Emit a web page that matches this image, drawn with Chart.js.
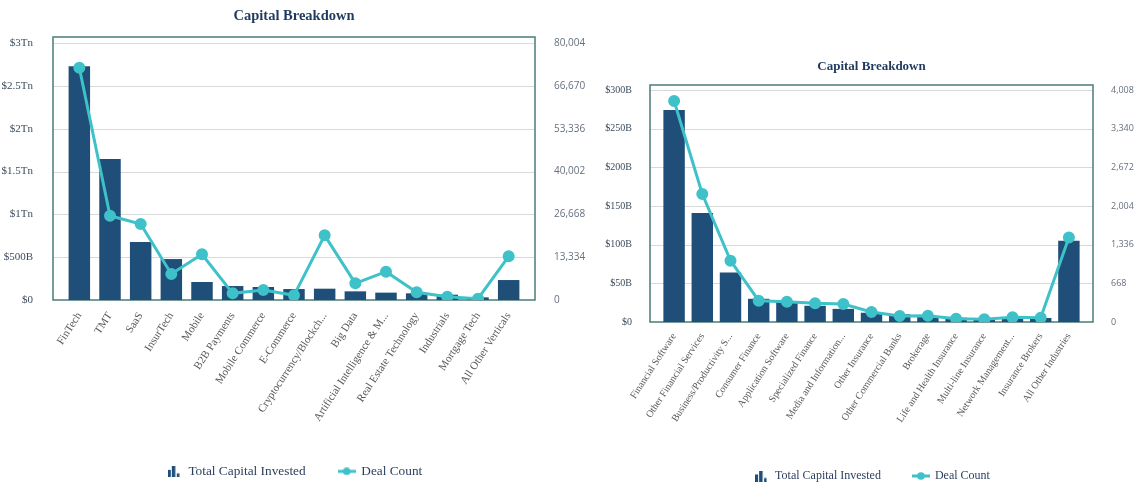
<!DOCTYPE html>
<html>
<head>
<meta charset="utf-8">
<script src="https://cdn.jsdelivr.net/npm/chart.js@4.4.1/dist/chart.umd.min.js"></script>
<style>
  html, body { margin:0; padding:0; background:#fff; overflow:hidden; width:1141px; height:485px; }
  .box { position:absolute; top:0; }
  #leftBox { left:0; width:600px; height:488px; }
  #rightBox { left:575px; width:566px; height:492px; }
</style>
</head>
<body>
<div class="box" id="leftBox"><canvas id="leftChart"></canvas></div>
<div class="box" id="rightBox"><canvas id="rightChart"></canvas></div>
<script>
// Capital Breakdown: by vertical (left) and by industry (right)

// --- left chart data (capital in $B) ---
const verticals = ['FinTech','TMT','SaaS','InsurTech','Mobile','B2B Payments','Mobile Commerce','E-Commerce',
  'Cryptocurrency/Blockch...','Big Data','Artificial Intelligence & M...','Real Estate Technology','Industrials',
  'Mortgage Tech','All Other Verticals'];
const verticalCapital = [2730, 1645, 677, 478, 210, 163, 152, 128, 132, 101, 86, 78, 62, 31, 233];
const verticalDeals = [72300, 26240, 23660, 8090, 14220, 2080, 3110, 1460, 20130, 5200, 8810, 2390, 1030, 400, 13600];
const verticalCapTicks = [0, 500, 1000, 1500, 2000, 2500, 3000];
const verticalCapLabels = ['$0','$500B','$1Tn','$1.5Tn','$2Tn','$2.5Tn','$3Tn'];
const verticalDealTicks = [0, 13334, 26668, 40002, 53336, 66670, 80004];

// --- right chart data (capital in $B) ---
const industries = ['Financial Software','Other Financial Services','Business/Productivity S...','Consumer Finance',
  'Application Software','Specialized Finance','Media and Information...','Other Insurance','Other Commercial Banks',
  'Brokerage','Life and Health Insurance','Multi-line Insurance','Network Management...','Insurance Brokers',
  'All Other Industries'];
const industryCapital = [274, 141, 64, 30, 26, 21, 17, 12, 10, 7, 5.6, 3.5, 4.3, 5.2, 105];
const industryDeals = [3819, 2212, 1060, 368, 351, 323, 311, 173, 104, 109, 57, 46, 81, 74, 1460];
const industryCapTicks = [0, 50, 100, 150, 200, 250, 300];
const industryCapLabels = ['$0','$50B','$100B','$150B','$200B','$250B','$300B'];
const industryDealTicks = [0, 668, 1336, 2004, 2672, 3340, 4008];

const NAVY = '#1f4e79';
const TEAL = '#3ec1c9';
const FRAME = '#4a7c7a';
const GRID = '#d9d9d9';
const SERIF = '"Liberation Serif", "Times New Roman", serif';
const SANS = '"Open Sans", "DejaVu Sans", sans-serif';

// legend icons
function barIcon(){
  const c = document.createElement('canvas');
  c.width = 12; c.height = 11;
  const g = c.getContext('2d');
  g.fillStyle = NAVY;
  g.fillRect(0, 4, 3, 7);
  g.fillRect(4, 0, 3.5, 11);
  g.fillRect(9, 7.5, 2.5, 3.5);
  return c;
}
function lineIcon(){
  const c = document.createElement('canvas');
  c.width = 18; c.height = 8;
  const g = c.getContext('2d');
  g.fillStyle = TEAL;
  g.fillRect(0, 2.5, 18, 3);
  g.beginPath(); g.arc(9, 4, 3.8, 0, Math.PI*2); g.fill();
  return c;
}

// frame + horizontal gridlines, drawn a bit wider than the chart area
const framePlugin = {
  id: 'frame',
  beforeDatasetsDraw(chart, args, opts){
    const {ctx, chartArea:a} = chart;
    const y = chart.scales.y;
    const L = a.left - opts.padX, R = a.right + opts.padX, T = a.top - opts.padTop, B = a.bottom;
    ctx.save();
    ctx.strokeStyle = GRID; ctx.lineWidth = 1;
    y.ticks.forEach(t=>{
      if (t.value === 0) return;
      const py = Math.round(y.getPixelForValue(t.value)) + 0.5;
      ctx.beginPath(); ctx.moveTo(L, py); ctx.lineTo(R, py); ctx.stroke();
    });
    ctx.strokeStyle = FRAME; ctx.lineWidth = 1.5;
    ctx.strokeRect(L, T, R-L, B-T);
    ctx.restore();
  }
};

function buildChart(id, s){
  return new Chart(document.getElementById(id), {
    type: 'bar',
    data: {
      labels: s.labels,
      datasets: [
        { type:'bar', label:'Total Capital Invested', data:s.capital, yAxisID:'y',
          backgroundColor:NAVY, barPercentage:s.barPct, categoryPercentage:1, order:1 },
        { type:'line', label:'Deal Count', data:s.deals, yAxisID:'y1',
          borderColor:TEAL, backgroundColor:TEAL, borderWidth:3, tension:0,
          pointRadius:4.5, pointHoverRadius:4.5, order:0 }
      ]
    },
    options: {
      responsive:true, maintainAspectRatio:false, animation:false,
      layout:{ padding:0 },
      plugins: {
        frame: { padX:s.frameX, padTop:s.frameTop },
        title: { display:true, text:'Capital Breakdown', fullSize:false, color:'#1f3a5f',
          font:{ family:SERIF, size:s.titleSize, weight:'bold' }, padding:s.titlePad },
        legend: { position:'bottom', fullSize:false,
          labels: { usePointStyle:true, pointStyleWidth:16, padding:s.legendGap, color:'#2b3f5c',
            font:{ family:SERIF, size:s.legendSize },
            generateLabels: ()=>[
              { text:'Total Capital Invested', pointStyle:barIcon(), fillStyle:NAVY, strokeStyle:NAVY, lineWidth:0, datasetIndex:0, fontColor:'#2b3f5c' },
              { text:'Deal Count', pointStyle:lineIcon(), fillStyle:TEAL, strokeStyle:TEAL, lineWidth:0, datasetIndex:1, fontColor:'#2b3f5c' }
            ] } },
        tooltip: { enabled:false }
      },
      scales: {
        x: { offset:true, grid:{ display:false, drawTicks:false }, border:{ display:false },
          ticks:{ autoSkip:false, minRotation:57, maxRotation:57, padding:s.xPad, color:'#595959',
            font:{ family:SERIF, size:s.xFont } },
          afterFit: sc=>{ sc.height = s.xHeight; } },
        y: { position:'left', min:0, max:s.capTicks[s.capTicks.length-1],
          grid:{ display:false, drawTicks:false }, border:{ display:false },
          afterBuildTicks: sc=>{ sc.ticks = s.capTicks.map(v=>({value:v})); },
          ticks:{ padding:s.yPad, color:'#3d4b5c', font:{ family:SERIF, size:s.yFont },
            callback:(v,i)=>s.capLabels[i] },
          afterFit: sc=>{ sc.width = s.yWidth; } },
        y1: { position:'right', min:0, max:s.dealTicks[s.dealTicks.length-1],
          grid:{ display:false, drawTicks:false }, border:{ display:false },
          afterBuildTicks: sc=>{ sc.ticks = s.dealTicks.map(v=>({value:v})); },
          ticks:{ padding:s.y1Pad, color:'#667080', font:{ family:SANS, size:s.y1Font },
            callback:v=>v.toLocaleString('en-US') },
          afterFit: sc=>{ sc.width = s.y1Width; } }
      }
    },
    plugins: [framePlugin]
  });
}

buildChart('leftChart', {
  labels:verticals, capital:verticalCapital, deals:verticalDeals,
  capTicks:verticalCapTicks, capLabels:verticalCapLabels, dealTicks:verticalDealTicks,
  barPct:0.7, frameX:11, frameTop:6,
  titleSize:14.5, titlePad:{ top:8, bottom:17.6 }, legendSize:13.3, legendGap:33,
  xPad:10, xFont:11, xHeight:131.7,
  yPad:31, yFont:11, yWidth:64, y1Pad:30, y1Font:10, y1Width:76
});

buildChart('rightChart', {
  labels:industries, capital:industryCapital, deals:industryDeals,
  capTicks:industryCapTicks, capLabels:industryCapLabels, dealTicks:industryDealTicks,
  barPct:0.76, frameX:10, frameTop:5,
  titleSize:13, titlePad:{ top:58.9, bottom:15.5 }, legendSize:12, legendGap:32,
  xPad:9, xFont:10, xHeight:116,
  yPad:28, yFont:10, yWidth:85, y1Pad:28, y1Font:9, y1Width:58
});
</script>
</body>
</html>
